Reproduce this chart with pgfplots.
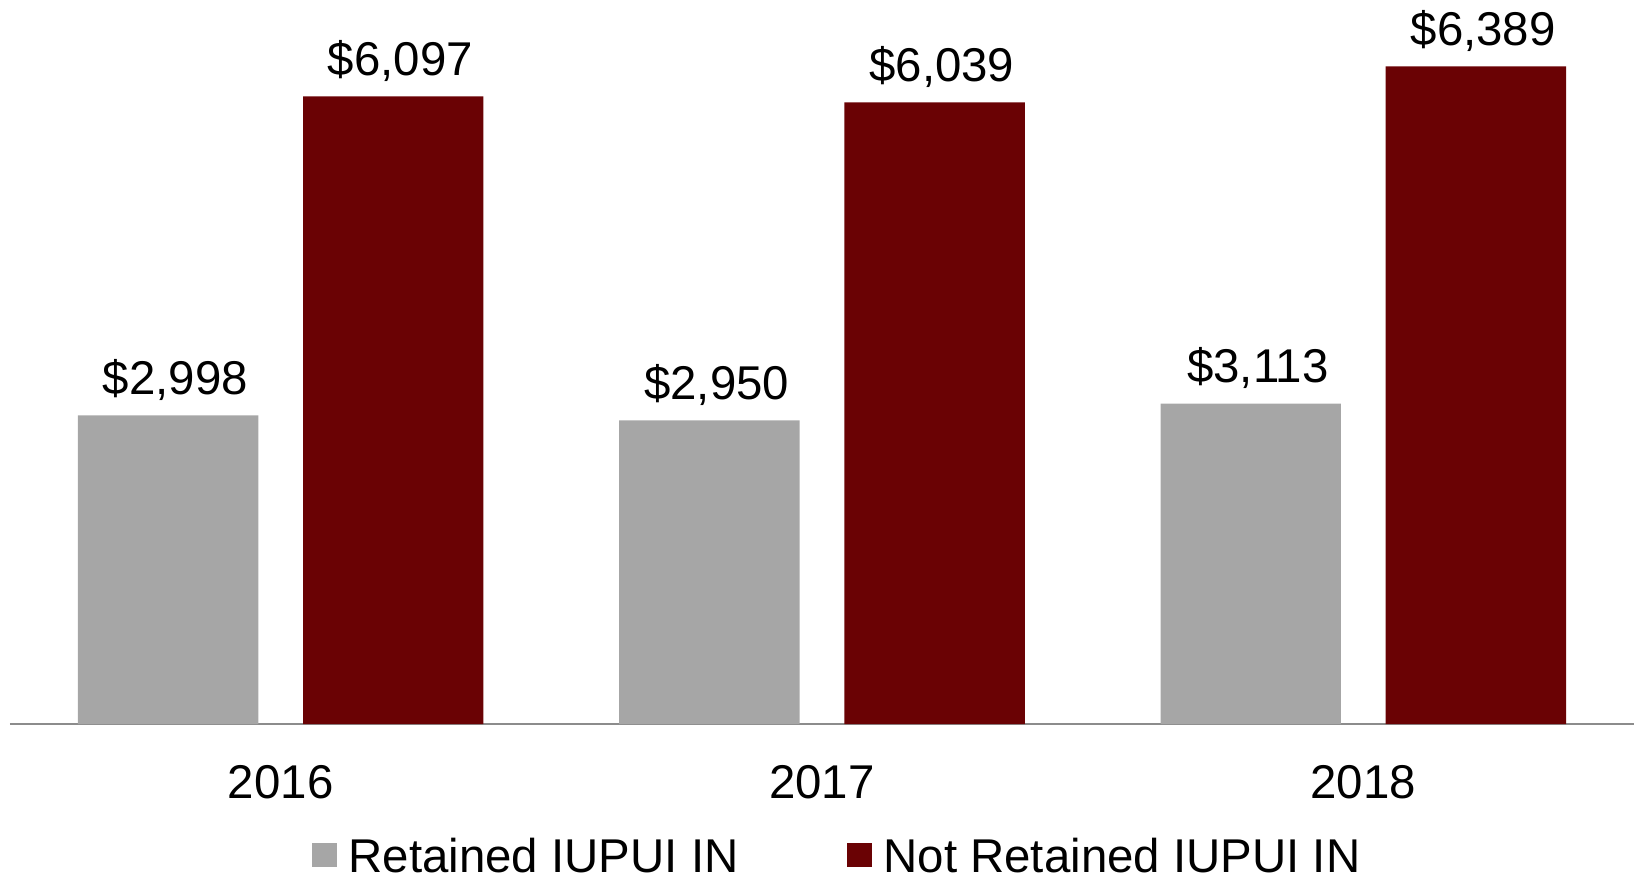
\documentclass[border=0pt]{standalone}
\usepackage{fontspec}
\setmainfont{Liberation Sans}
\usepackage{pgfplots}
\pgfplotsset{compat=1.18}
\definecolor{barGray}{RGB}{166,166,166}
\definecolor{barRed}{RGB}{106,2,4}
\definecolor{axGray}{RGB}{140,140,140}
\begin{document}
\fontsize{23.7pt}{28pt}\selectfont
\begin{tikzpicture}
\begin{axis}[
  name=ax,
  scale only axis,
  width=812pt, height=362pt,
  xmin=-0.5, xmax=2.5,
  ymin=0, ymax=7034,
  axis x line=bottom,
  axis y line=none,
  x axis line style={-, draw=axGray, line width=1pt},
  xtick={0,1,2},
  xticklabels={2016,2017,2018},
  major tick length=0pt,
  xticklabel style={anchor=base, yshift=-37pt, inner sep=0pt},
  /pgf/number format/assume math mode=true,
  ybar,
  bar width=90.2pt,
  clip=false,
  nodes near coords={\$\pgfmathprintnumber[1000 sep={,}]{\pgfplotspointmeta}},
  nodes near coords style={anchor=base, yshift=10.5pt, xshift=3.6pt, inner sep=0pt, black},
  legend columns=2,
  legend style={
    at={(0.5086,-0.2058)}, anchor=south,
    draw=none, fill=none, inner sep=0pt,
    nodes={inner sep=0pt, text depth=0pt},
    /tikz/every odd column/.append style={column sep=6pt},
    /tikz/every even column/.append style={column sep=54pt},
  },
  legend image code/.code={\fill[#1] (0pt,-6pt) rectangle (12.5pt,6pt);},
]
\addplot[fill=barGray, draw=none, bar shift=-56.3pt] coordinates {(0,2998) (1,2950) (2,3113)};
\addlegendentry{Retained IUPUI IN}
\addplot[fill=barRed, draw=none, bar shift=56.3pt] coordinates {(0,6097) (1,6039) (2,6389)};
\addlegendentry{Not Retained IUPUI IN}
\end{axis}
\pgfresetboundingbox
\path[use as bounding box] ([xshift=-5pt,yshift=-75.5pt]ax.south west) rectangle (ax.north east);
\end{tikzpicture}
\end{document}
